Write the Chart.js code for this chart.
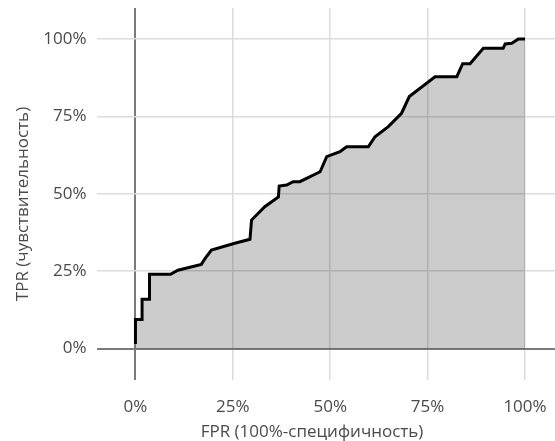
<!DOCTYPE html>
<html>
<head>
<meta charset="utf-8">
<script src="https://cdn.jsdelivr.net/npm/chart.js@4.4.1/dist/chart.umd.min.js"></script>
<style>
  html, body { margin: 0; padding: 0; background: #fff; }
  #wrap { position: relative; width: 555px; height: 441px; }
</style>
</head>
<body>
<div id="wrap"><canvas id="rocChart"></canvas></div>
<script>
// ROC curve points
const fpr = [0, 0, 0.017, 0.017, 0.036, 0.036, 0.09, 0.109, 0.169, 0.179, 0.195, 0.255, 0.294, 0.298,
  0.332, 0.367, 0.369, 0.388, 0.405, 0.422, 0.474, 0.491, 0.525, 0.542, 0.598, 0.615, 0.649, 0.683,
  0.703, 0.769, 0.825, 0.84, 0.859, 0.893, 0.944, 0.949, 0.966, 0.983, 1.0];
const tpr = [0.015, 0.094, 0.094, 0.159, 0.159, 0.24, 0.24, 0.253, 0.272, 0.291, 0.318, 0.34, 0.353, 0.415,
  0.458, 0.49, 0.525, 0.528, 0.539, 0.539, 0.571, 0.62, 0.636, 0.652, 0.652, 0.684, 0.717, 0.76,
  0.814, 0.878, 0.878, 0.92, 0.92, 0.97, 0.97, 0.984, 0.986, 1.0, 1.0];
const tickValues = [0, 0.25, 0.5, 0.75, 1];
const xTitle = "FPR (100%-специфичность)";
const yTitle = "TPR (чувствительность)";

const textColor = "#4a4a4a";
const fontFamily = "'Open Sans', 'Noto Sans', sans-serif";

const points = fpr.map((x, i) => ({ x: x, y: tpr[i] }));

const gridColor = (ctx) => (ctx.tick && ctx.tick.value === 0 ? "#7a7a7a" : "#dcdcdc");
const gridWidth = (ctx) => (ctx.tick && ctx.tick.value === 0 ? 2 : 1.5);
const setTicks = (scale) => {
  scale.ticks = tickValues.map((v) => ({ value: v }));
};

// axis titles, placed where the original has them
const axisTitles = {
  id: "axisTitles",
  afterDraw(chart) {
    const c = chart.ctx;
    c.save();
    c.fillStyle = textColor;
    c.font = "17px " + fontFamily;
    c.textAlign = "center";
    c.textBaseline = "middle";
    c.fillText(xTitle, 312, 432);
    c.translate(23, 204);
    c.rotate(-Math.PI / 2);
    c.fillText(yTitle, 0, 0);
    c.restore();
  },
};

new Chart(document.getElementById("rocChart"), {
  type: "line",
  data: {
    datasets: [
      {
        data: points,
        borderColor: "#000",
        borderWidth: 3,
        backgroundColor: "rgba(0,0,0,0.2)",
        fill: "origin",
        pointRadius: 0,
        tension: 0,
      },
    ],
  },
  options: {
    responsive: true,
    maintainAspectRatio: false,
    animation: false,
    layout: { padding: { top: 8, left: 0, right: 0, bottom: 0 } },
    plugins: { legend: { display: false }, tooltip: { enabled: false } },
    scales: {
      x: {
        type: "linear",
        min: -0.1,
        max: 1.077,
        afterBuildTicks: setTicks,
        afterFit: (scale) => {
          scale.height = 61.5;
          scale.paddingLeft = 0;
          scale.paddingRight = 0;
        },
        border: { display: false },
        grid: { color: gridColor, lineWidth: gridWidth, drawTicks: false },
        ticks: {
          padding: 17,
          color: textColor,
          font: { size: 17, family: fontFamily },
          maxRotation: 0,
          callback: (v) => Math.round(v * 100) + "%",
        },
      },
      y: {
        min: -0.1,
        max: 1.1,
        afterBuildTicks: setTicks,
        afterFit: (scale) => {
          scale.width = 96.5;
          scale.paddingTop = 0;
          scale.paddingBottom = 0;
        },
        border: { display: false },
        grid: { color: gridColor, lineWidth: gridWidth, drawTicks: false },
        ticks: {
          padding: 10,
          color: textColor,
          font: { size: 17, family: fontFamily },
          callback: (v) => Math.round(v * 100) + "%",
        },
      },
    },
  },
  plugins: [axisTitles],
});
</script>
</body>
</html>
